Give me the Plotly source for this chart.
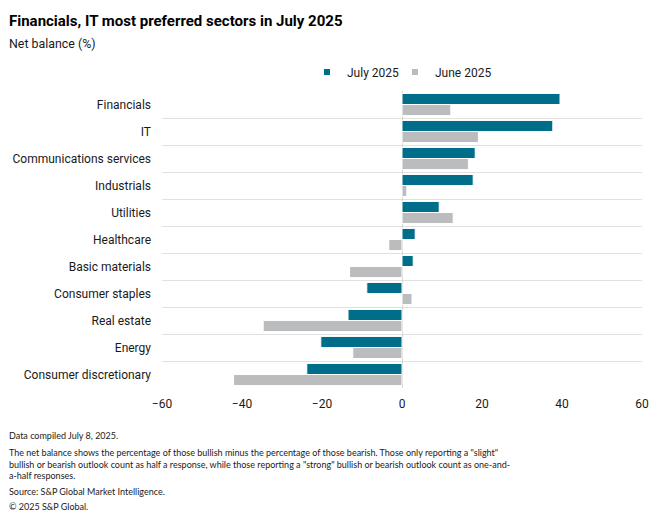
import plotly.graph_objects as go

# ---------------- data ----------------
categories = [
    "Financials", "IT", "Communications services", "Industrials", "Utilities",
    "Healthcare", "Basic materials", "Consumer staples", "Real estate",
    "Energy", "Consumer discretionary",
]
july_2025 = [39.5, 37.7, 18.3, 17.8, 9.3, 3.3, 2.8, -8.8, -13.5, -20.3, -23.8]
june_2025 = [12.2, 19.1, 16.6, 1.2, 12.8, -3.3, -13.1, 2.5, -34.7, -12.3, -42.1]
series_names = ["July 2025", "June 2025"]
x_ticks = [-60, -40, -20, 0, 20, 40, 60]

title_text = "Financials, IT most preferred sectors in July 2025"
subtitle_text = "Net balance (%)"
notes = [
    "Data compiled July 8, 2025.",
    "The net balance shows the percentage of those bullish minus the percentage of those bearish. Those only reporting a \"slight\"<br>"
    "bullish or bearish outlook count as half a response, while those reporting a \"strong\" bullish or bearish outlook count as one-and-<br>"
    "a-half responses.",
    "Source: S&P Global Market Intelligence.",
    "\u00a9 2025 S&P Global.",
]

# ---------------- style ----------------
W, H = 660, 523
ML, MR, MT, MB = 154, 26, 83, 143
PW, PH = W - ML - MR, H - MT - MB
FONT = "Roboto, Arial, sans-serif"
NOTEFONT = "Lato, Roboto, Arial, sans-serif"
TEAL = "#006e8a"
GRAY = "#bbbcbe"
TXT = "#1a1a1a"


def px_x(px):
    return (px - ML) / PW


def px_y(py):
    return 1 - (py - MT) / PH


fig = go.Figure()
for name, vals, col in [(series_names[0], july_2025, TEAL), (series_names[1], june_2025, GRAY)]:
    fig.add_trace(go.Bar(
        y=categories, x=vals, name=name, orientation="h",
        marker=dict(color=col, line=dict(color="white", width=1)),
        showlegend=False,
    ))
# legend entries with small square markers (one legend box per entry for exact placement)
legend_ids = ["legend", "legend2"]
legend_cx = [348, 438]
for name, col, lid in zip(series_names, [TEAL, GRAY], legend_ids):
    fig.add_trace(go.Scatter(
        x=[None], y=[None], mode="markers", name=name, legend=lid,
        marker=dict(symbol="square", size=6, color=col),
    ))

annotations = [
    dict(text="<b>" + title_text + "</b>", x=px_x(0), y=px_y(13), xanchor="left", yanchor="middle",
         font=dict(size=15, color="#000000", family=FONT)),
    dict(text=subtitle_text, x=px_x(0), y=px_y(35), xanchor="left", yanchor="middle",
         font=dict(size=12.4, color=TXT, family=FONT)),
]
note_y = [427, 456, 483, 498]
for txt, yy in zip(notes, note_y):
    annotations.append(dict(text=txt, x=px_x(0), y=px_y(yy), xanchor="left", yanchor="middle",
                            align="left", font=dict(size=9.0, color=TXT, family=NOTEFONT)))
for a in annotations:
    a.update(xref="paper", yref="paper", showarrow=False, borderpad=0)

legend_style = dict(orientation="h", xanchor="center", y=px_y(64), yanchor="middle",
                    font=dict(size=12, color=TXT), itemwidth=30,
                    bgcolor="rgba(0,0,0,0)")

fig.update_layout(
    width=W, height=H,
    margin=dict(l=ML, r=MR, t=MT, b=MB, pad=0, autoexpand=False),
    paper_bgcolor="white", plot_bgcolor="white",
    font=dict(family=FONT, size=12, color=TXT),
    barmode="group", bargap=0.18, bargroupgap=0.0,
    showlegend=True,
    legend=dict(x=px_x(legend_cx[0]), **legend_style),
    legend2=dict(x=px_x(legend_cx[1]), **legend_style),
    xaxis=dict(range=[-60, 60], tickvals=x_ticks, ticks="", showgrid=False,
               zeroline=True, zerolinecolor="#d4d4d4", zerolinewidth=1,
               showline=False, tickfont=dict(size=12, color=TXT), fixedrange=True,
               ticklabelstandoff=7),
    yaxis=dict(type="category", categoryorder="array", categoryarray=categories,
               autorange="reversed", tickson="boundaries", showgrid=True,
               gridcolor="#e1e1e1", gridwidth=1, ticks="", showline=False,
               tickfont=dict(size=12, color=TXT), ticklabelstandoff=10),
    annotations=annotations,
)

fig.write_html("out.html")
